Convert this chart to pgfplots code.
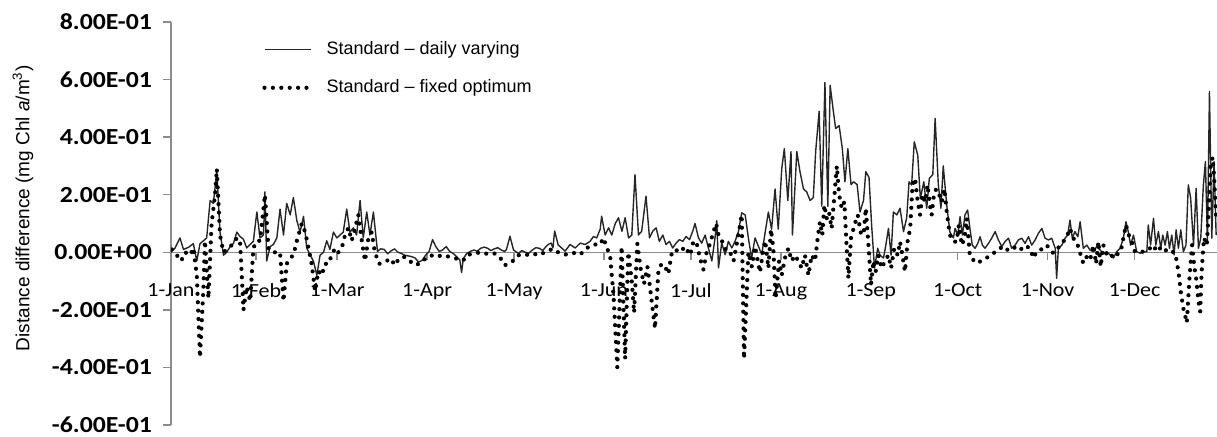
\documentclass[border=0pt]{standalone}
\usepackage{fontspec}
\setmainfont{Liberation Sans}
\newfontfamily\calibri{Carlito}
\usepackage{graphicx}
\usepackage{pgfplots}
\pgfplotsset{compat=1.18}
\usetikzlibrary{calc}
\newcommand{\yl}[1]{\scalebox{1.12}[1]{#1}}
\newcommand{\xl}[1]{\scalebox{1.1}[1]{#1}}
\definecolor{axgray}{HTML}{8C8C8C}
\begin{document}
\begin{tikzpicture}
\begin{axis}[
  name=ax,
  scale only axis, width=523pt, height=201.5pt,
  xmin=1.7, xmax=362.4, ymin=-0.6, ymax=0.8,
  axis x line*=middle, axis y line*=left,
  axis line style={axgray, line width=0.7pt},
  hide obscured x ticks=false, hide obscured y ticks=false,
  tick align=outside, major tick length=4pt,
  tick style={axgray, line width=0.7pt},
  xtick={1.7,31,59,90,120,151,181,212,243,273,304,334},
  xticklabels={\xl{1-Jan},\xl{1-Feb},\xl{1-Mar},\xl{1-Apr},\xl{1-May},\xl{1-Jun},\xl{1-Jul},\xl{1-Aug},\xl{1-Sep},\xl{1-Oct},\xl{1-Nov},\xl{1-Dec}},
  xticklabel style={font=\calibri\fontsize{10}{12}\selectfont, yshift=-8pt},
  ytick={-0.6,-0.4,-0.2,0,0.2,0.4,0.6,0.8},
  yticklabels={\yl{-6.00E-01},\yl{-4.00E-01},\yl{-2.00E-01},\yl{0.00E+00},\yl{2.00E-01},\yl{4.00E-01},\yl{6.00E-01},\yl{8.00E-01}},
  yticklabel style={font=\calibri\bfseries\fontsize{11.5}{13}\selectfont, xshift=-2pt},
  ylabel={Distance difference (mg Chl \textit{a}/m\textsuperscript{3})},
  ylabel style={at={(axis description cs:-0.1415,0.538)}, anchor=center, font=\fontsize{9.5}{11}\selectfont},
  legend style={draw=none, fill=none, inner sep=0pt, at={(axis description cs:0.087,0.962)}, anchor=north west, font=\fontsize{9}{11}\selectfont, row sep=7pt, /tikz/every odd column/.append style={column sep=5pt}},
  legend cell align=left,
  legend image code/.code={\draw[#1] (0pt,0pt) -- (23pt,0pt);},
]
\addplot[black!85, line width=0.7pt, line join=round, mark=none] coordinates {
(1.7,0.00) (3.1,0.015) (4.8,0.05) (6.0,0.01) (7.7,0.017) (9.4,0.03) (10.6,-0.03) (11.7,0.03) (12.9,0.04) (14.0,0.05) (15.2,0.18) (16.3,0.17) (17.5,0.28) (18.6,0.07) (19.8,-0.01) (20.9,0.0) (22.1,0.02) (23.2,0.03) (24.4,0.07) (25.5,0.055) (26.7,0.045) (27.8,0.015) (29.0,0.027) (30.1,0.038) (31.3,0.14) (32.4,0.05) (33.6,0.06) (34.1,0.21) (34.7,-0.03) (35.9,0.02) (37.0,0.027) (38.2,0.05) (39.3,0.15) (40.5,0.06) (41.6,0.17) (42.8,0.13) (43.9,0.19) (45.1,0.11) (46.2,0.07) (47.4,0.125) (48.5,0.015) (49.7,-0.01) (50.8,-0.03) (52.0,-0.08) (53.1,-0.01) (54.3,0.0) (55.4,0.04) (56.5,0.01) (57.7,0.07) (58.9,0.05) (60.0,0.06) (61.1,0.07) (62.3,0.15) (63.4,0.07) (64.6,0.085) (65.7,0.06) (66.9,0.18) (68.0,0.05) (69.2,0.14) (70.3,0.06) (71.5,0.14)
(72.9,0.003) (74.0,0.012) (75.2,0.01) (76.4,-0.005) (77.6,0.005) (78.8,0.012) (80.0,0.0) (81.1,-0.004) (82.3,-0.01) (84.7,-0.015) (85.9,-0.02) (87.1,-0.034) (88.3,-0.028) (89.5,-0.01) (90.7,0.003) (91.9,0.044) (93.0,0.02) (94.2,0.003) (95.4,0.008) (96.6,0.02) (97.8,0.003) (99.0,-0.004) (100.2,-0.015) (101.3,-0.027) (101.9,-0.07) (102.5,-0.022) (103.7,-0.004) (104.9,0.003) (106.1,0.008) (107.3,0.004) (108.5,0.014) (109.7,0.018) (110.9,0.014) (112.0,0.006) (113.2,0.012) (114.4,0.016) (115.6,0.008) (116.8,0.003) (117.4,0.01) (118.6,0.056) (119.8,0.008) (121.5,-0.004) (122.7,0.006) (123.9,0.0) (125.1,-0.003) (126.3,0.008) (127.5,0.016) (128.7,0.014) (129.9,0.006) (131.0,0.02) (131.9,0.028) (132.8,0.032) (133.4,0.015) (134.0,0.074) (135.2,0.026)
(137.6,0.004) (139.3,0.027) (141.1,0.015) (142.8,0.032) (144.5,0.027) (146.2,0.038) (147.4,0.055) (148.5,0.05) (149.7,0.08) (150.2,0.125) (151.4,0.06) (152.6,0.085) (153.7,0.06) (154.9,0.1) (156.0,0.12) (157.2,0.073) (158.3,0.12) (159.5,0.05) (160.6,0.06) (161.7,0.27) (162.9,0.06) (164.0,0.073) (165.5,0.195) (166.7,0.05) (167.8,0.073) (169.0,0.085) (170.1,0.038) (171.3,0.06) (172.4,0.027) (173.6,0.038) (174.7,0.015) (175.9,0.032) (177.0,0.044) (178.2,0.038) (179.3,0.055) (180.5,0.044) (181.6,0.073) (182.4,0.1) (183.6,0.05) (184.7,0.032) (185.9,0.06) (187.0,0.015) (188.2,-0.03) (189.3,0.05) (189.9,0.11) (190.5,-0.054) (191.6,0.032) (192.8,-0.008) (193.9,0.038) (195.1,0.015) (196.2,0.038) (197.4,0.073) (198.5,0.137) (199.7,0.13) (200.8,0.05) (201.9,-0.02) (203.1,0.05) (204.3,0.02) (205.4,-0.008)
(206.6,0.07) (207.7,0.14) (208.8,0.08) (210.0,0.22) (211.1,0.08) (212.3,0.29) (213.2,0.36) (214.4,0.18) (215.5,0.35) (216.0,0.06) (217.5,0.35) (218.6,0.28) (219.8,0.22) (220.9,0.21) (222.1,0.18) (223.2,0.19) (224.0,0.35) (225.2,0.49) (226.1,0.16) (227.2,0.59) (228.2,0.16) (229.0,0.58) (230.1,0.49) (230.9,0.43) (232.1,0.44) (233.2,0.36) (234.1,0.245) (235.1,0.36) (236.2,0.235) (237.1,0.245) (238.3,0.235) (239.3,0.14) (240.5,0.18) (241.3,0.28) (242.4,0.26) (243.3,0.095) (244.3,-0.055) (245.4,0.014) (246.2,-0.01) (247.4,-0.02) (248.2,0.025) (249.1,0.083) (250.0,-0.01) (250.8,0.14) (252.0,0.13) (253.1,0.153) (254.3,0.072) (255.4,0.12) (256.2,0.245) (257.1,0.234) (258.0,0.384) (259.2,0.338) (260.1,0.187) (261.3,0.245) (262.3,0.153) (263.2,0.257) (264.4,0.27) (265.2,0.465) (266.3,0.235) (267.2,0.153) (268.0,0.30) (269.2,0.164) (270.3,0.07) (271.5,0.05) (272.1,0.083)
(273.0,0.06) (273.8,0.124) (274.6,0.06) (275.5,0.13) (276.4,0.147) (277.2,0.083) (278.0,0.025) (279.0,0.014) (279.9,0.031) (280.7,0.054) (281.5,0.025) (282.4,0.014) (283.6,0.031) (284.7,0.049) (285.9,0.072) (287.0,0.043) (288.2,0.02) (289.3,0.037) (290.5,0.049) (291.6,0.014) (292.8,0.025) (293.9,0.043) (295.1,0.049) (296.2,0.031) (297.4,0.054) (298.5,0.025) (299.7,0.043) (300.8,0.066) (302.0,0.083) (303.1,0.049) (304.3,0.043) (305.4,0.049) (306.6,0.014) (307.1,-0.09) (307.7,0.014) (308.9,0.025) (310.0,0.049) (310.9,0.06) (311.7,0.112) (312.5,0.049) (313.4,0.072) (314.4,0.054) (315.2,0.106) (316.3,0.014) (317.5,0.025) (318.6,0.008)
(319.8,0.002) (320.9,0.02) (322.1,0.008) (323.2,-0.003) (324.4,0.002) (325.5,-0.009) (326.7,-0.02) (327.8,0.002) (329.0,0.014) (330.1,0.049) (331.0,0.106) (331.8,0.072) (332.6,0.025) (333.6,0.06) (334.7,0.002) (335.9,-0.003) (337.0,0.002) (338.2,0.002) (338.7,0.095) (339.5,0.025) (340.5,0.118) (341.3,0.025) (342.2,0.072) (343.0,0.014) (343.7,0.06) (344.5,0.025) (345.3,0.072) (346.0,0.014) (346.8,0.06) (347.6,-0.009) (348.3,0.078) (349.1,0.014) (349.9,0.078) (350.8,0.002) (351.7,0.025) (352.5,0.234) (353.3,0.19) (354.3,0.025) (355.2,0.222) (356.0,0.014) (356.8,0.049) (357.7,0.234) (358.4,0.315) (359.1,0.037) (359.8,0.558) (360.6,0.049) (361.4,0.315) (362.1,0.06)
};
\addlegendentry{Standard \textendash\ daily varying}
\addplot[black, line width=2.1pt, line cap=round, line join=round, dash pattern=on 0pt off 4.2pt, mark=none] coordinates {
(2.0,0.01) (3.7,-0.01) (5.2,-0.03) (6.6,0.0) (8.3,-0.01) (9.4,0.015) (10.6,-0.08) (11.7,-0.365) (12.9,-0.12) (13.4,0.04) (14.6,-0.16) (15.7,0.1) (16.9,0.2) (17.5,0.29) (18.6,0.06) (19.8,0.0) (20.9,0.01) (22.1,0.02) (23.2,0.03) (24.4,0.05) (25.5,0.04) (26.7,-0.2) (27.8,-0.12) (29.0,-0.17) (30.1,0.015) (31.3,0.04) (32.4,0.04) (34.1,0.2) (35.3,0.015) (36.4,0.0) (38.2,0.0) (39.3,0.0) (40.5,-0.17) (41.6,-0.04) (42.8,-0.02) (43.9,-0.01) (45.1,0.04) (46.8,0.1) (48.0,0.07) (49.1,0.015) (50.2,-0.04) (51.4,-0.135) (52.5,-0.065) (53.7,-0.08) (54.8,-0.04) (56.0,-0.04) (57.1,-0.01) (58.3,0.015) (59.4,0.0) (60.6,0.015) (61.7,0.06) (62.9,0.085) (64.0,0.04) (65.2,0.085) (66.3,0.13) (67.5,0.04) (68.6,-0.03) (69.8,0.05) (70.9,0.07) (72.0,0.0) (73.5,-0.04)
(75.2,-0.034) (77.6,-0.022) (78.8,-0.045) (80.5,-0.02) (82.3,-0.016) (84.0,-0.03) (85.9,-0.045) (87.1,-0.04) (89.5,-0.022) (91.2,-0.01) (93.0,-0.016) (95.4,-0.01) (97.8,-0.016) (100.2,-0.022) (102.5,-0.028) (103.7,-0.01) (106.1,-0.004) (108.5,0.0) (111.0,-0.006) (113.2,-0.004) (115.0,-0.015) (116.8,-0.045) (119.2,-0.034) (121.5,-0.01) (123.9,-0.01) (126.3,-0.004) (128.7,-0.01) (131.0,0.003) (133.4,0.012) (135.8,-0.004) (138.2,-0.008) (140.5,-0.002) (142.8,-0.008) (145.1,0.015) (147.4,0.027) (149.7,0.027) (150.8,0.05) (152.0,0.015)
(153.1,-0.01) (154.3,-0.15) (155.6,-0.40) (157.1,0.02) (158.3,-0.37) (159.4,0.0) (160.6,-0.1) (161.4,-0.21) (162.5,0.03) (163.7,-0.06) (164.8,-0.11) (166.0,-0.05) (167.1,-0.14) (168.6,-0.265) (169.8,-0.06) (170.9,-0.04) (172.1,-0.05) (173.2,-0.075) (174.4,0.0) (175.5,0.01) (177.2,0.0) (179.0,0.02) (180.7,-0.01) (181.9,0.04) (183.0,0.03) (184.1,-0.02) (185.3,-0.06) (186.4,0.0) (187.6,0.03) (188.7,0.07) (189.7,0.1) (190.5,0.06) (192.2,0.03) (193.4,0.0) (194.5,0.0) (195.7,-0.03) (196.8,0.03) (198.0,0.1) (198.5,0.13) (199.3,-0.37) (200.8,0.0) (202.0,-0.05) (203.1,0.02) (204.8,-0.07) (205.8,0.0)
(206.6,0.04) (207.7,-0.055) (208.6,0.08) (209.4,0.014) (210.2,-0.16) (211.4,-0.03) (212.3,-0.08) (213.4,-0.02) (214.6,0.014) (215.7,-0.03) (216.9,-0.01) (218.0,-0.03) (219.2,-0.055) (220.3,-0.01) (221.5,-0.08) (222.6,-0.01) (223.8,-0.03) (224.7,0.05) (225.5,0.106) (226.3,0.06) (227.0,0.164) (227.8,0.118) (228.6,0.14) (229.5,0.083) (230.5,0.2) (231.3,0.30) (232.1,0.2) (233.0,0.153) (233.9,0.175) (234.7,0.014) (235.3,-0.09) (236.2,0.05) (237.4,0.095) (238.5,0.13) (239.7,0.06) (240.6,0.07) (241.3,0.153) (242.2,0.025) (243.1,-0.113) (243.9,-0.03) (244.7,-0.067) (245.6,-0.01) (246.8,-0.055) (247.9,-0.03) (249.1,-0.01) (250.0,-0.055) (251.1,0.014) (252.3,-0.01) (253.1,0.037) (253.9,-0.01) (254.8,-0.067) (255.7,0.037) (256.6,0.083) (257.4,0.234) (258.3,0.257) (259.2,0.175) (260.0,0.13) (260.8,0.2) (261.7,0.175) (262.6,0.234) (263.4,0.164) (264.0,0.13) (264.9,0.21) (265.7,0.22) (266.6,0.2) (267.5,0.175) (268.4,0.22) (269.2,0.14) (270.3,0.06) (271.5,0.037)
(272.6,0.037) (273.4,0.095) (274.4,0.025) (275.3,0.049) (276.1,0.118) (276.7,0.049) (277.2,-0.015) (278.4,-0.027) (279.5,-0.038) (280.7,-0.032) (281.8,-0.027) (282.9,-0.02) (284.1,-0.01) (285.3,-0.004) (286.4,0.008) (287.6,0.014) (288.7,0.02) (289.9,0.008) (291.0,0.014) (292.2,0.02) (293.3,0.008) (294.5,0.014) (295.6,0.008) (296.8,0.02) (297.9,0.014) (299.1,-0.02) (300.2,0.003) (301.4,0.008) (302.5,0.014) (303.7,0.025) (304.8,0.008) (306.0,-0.003) (307.1,0.008) (308.3,0.025) (309.4,0.037) (310.6,0.054) (311.7,0.083) (312.8,0.049) (314.0,0.037) (315.2,-0.003) (316.3,-0.038) (317.5,-0.015) (318.6,-0.027)
(319.8,0.025) (320.7,-0.04) (321.5,0.037) (322.3,-0.05) (323.2,0.025) (324.4,-0.009) (325.5,-0.003) (326.7,-0.02) (327.8,-0.009) (329.2,0.002) (330.1,0.049) (331.0,0.095) (332.0,0.06) (333.0,0.037) (334.1,0.002) (335.9,0.002) (337.6,0.002) (339.3,0.014) (340.5,0.025) (341.6,0.002) (342.8,0.014) (343.9,0.02) (345.1,0.002) (346.2,-0.003) (347.4,0.002) (348.3,-0.02) (349.1,-0.067) (349.9,-0.137) (350.8,-0.195) (352.0,-0.245) (352.9,-0.09) (353.8,0.025) (354.5,-0.044) (355.2,-0.09) (356.0,-0.17) (356.6,-0.206) (357.1,-0.067) (357.9,0.05) (358.9,0.025) (359.5,0.14) (360.2,0.3) (360.9,0.33) (361.4,0.26) (362.1,0.118)
};
\addlegendentry{Standard \textendash\ fixed optimum}
\end{axis}
\pgfresetboundingbox
\path[use as bounding box] ($(ax.south west)+(-85.5pt,-5.5pt)$) rectangle ($(ax.north east)+(0pt,11pt)$);
\end{tikzpicture}
\end{document}
